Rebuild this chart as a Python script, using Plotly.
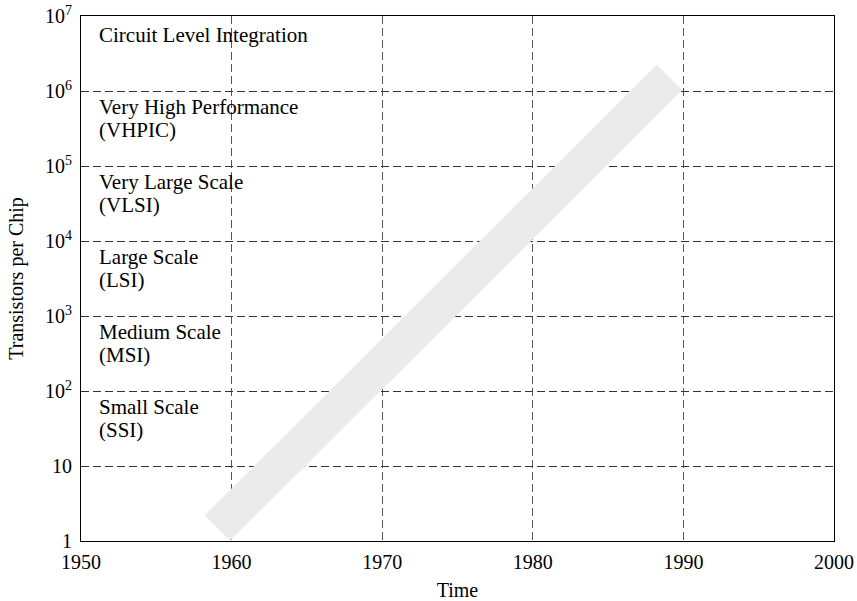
import plotly.graph_objects as go

# Integration-scale trend: years and transistors per chip
trend_years = [1959.06, 1989.08]
trend_transistors = [1.49, 1.51e6]

# Integration levels, each labelled at the top of its decade band
level_labels = [
    "Small Scale<br>(SSI)",
    "Medium Scale<br>(MSI)",
    "Large Scale<br>(LSI)",
    "Very Large Scale<br>(VLSI)",
    "Very High Performance<br>(VHPIC)",
    "Circuit Level Integration",
]
level_top_exponent = [2, 3, 4, 5, 6, 7]

# Axis ticks
x_ticks = [1950, 1960, 1970, 1980, 1990, 2000]
y_tick_vals = [1, 10, 1e2, 1e3, 1e4, 1e5, 1e6, 1e7]
y_tick_text = ["1", "10", "10<sup>2</sup>", "10<sup>3</sup>", "10<sup>4</sup>",
               "10<sup>5</sup>", "10<sup>6</sup>", "10<sup>7</sup>"]

FONT = "Liberation Serif, Times New Roman, serif"
LINE_GAP = 23  # px between stacked label lines

fig = go.Figure()
fig.add_trace(go.Scatter(
    x=trend_years, y=trend_transistors, mode="lines",
    line=dict(color="#ebebeb", width=36),
    hoverinfo="skip", showlegend=False,
))

for label, top in zip(level_labels, level_top_exponent):
    lines = label.split("<br>")
    first_shift = -19 if len(lines) == 1 else -16
    for i, line in enumerate(lines):
        fig.add_annotation(
            x=1951.05, y=top, xref="x", yref="y",
            text=line, showarrow=False, align="left",
            xanchor="left", yanchor="middle",
            yshift=first_shift - i * LINE_GAP,
            font=dict(family=FONT, size=21, color="black"),
        )

fig.update_layout(
    width=857, height=601,
    margin=dict(l=81, r=23, t=16, b=60, autoexpand=False),
    paper_bgcolor="white", plot_bgcolor="white",
    font=dict(family=FONT, size=20, color="black"),
    showlegend=False,
)
fig.update_xaxes(
    range=[1950, 2000], tickvals=x_ticks, ticks="", automargin=False,
    tickfont=dict(family=FONT, size=20), ticklabelstandoff=3,
    showline=True, linecolor="black", linewidth=1, mirror=True,
    showgrid=True, gridcolor="#555555", griddash="8px,4px", gridwidth=1,
    zeroline=False,
    title=dict(text="Time", font=dict(family=FONT, size=20), standoff=18),
)
fig.update_yaxes(
    type="log", range=[0, 7], tickvals=y_tick_vals, ticktext=y_tick_text,
    ticks="", automargin=False,
    tickfont=dict(family=FONT, size=20), ticklabelstandoff=4,
    showline=True, linecolor="black", linewidth=1, mirror=True,
    showgrid=True, gridcolor="#333333", griddash="8px,4px", gridwidth=1,
    zeroline=False,
    title=dict(text="Transistors per Chip", font=dict(family=FONT, size=20), standoff=16),
)

fig.write_html("out.html")
